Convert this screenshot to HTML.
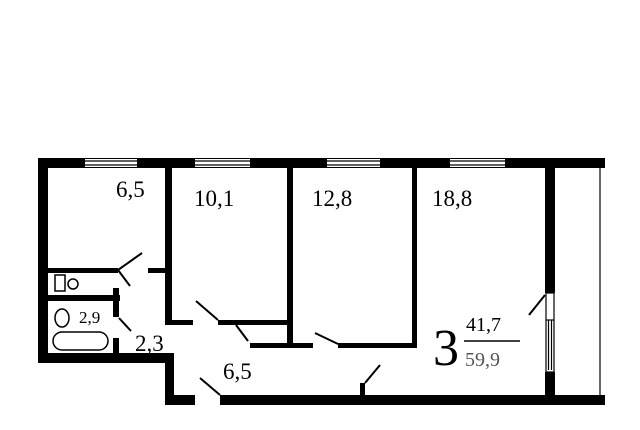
<!DOCTYPE html>
<html><head><style>
body{margin:0;background:#fff;width:640px;height:430px;overflow:hidden}
svg{display:block}
text{font-family:"Liberation Serif",serif;fill:#000}
</style></head><body>
<svg width="640" height="430" viewBox="0 0 640 430">
<g fill="#000">
<rect x="38" y="158" width="567" height="10"/>
<rect x="38" y="158" width="10" height="205"/>
<rect x="38" y="353" width="135" height="10"/>
<rect x="165" y="353" width="9" height="52"/>
<rect x="165" y="395" width="30" height="10"/>
<rect x="220" y="395" width="385" height="10"/>
<rect x="165" y="168" width="7" height="157"/>
<rect x="165" y="320" width="28" height="5"/>
<rect x="218" y="320" width="70" height="5"/>
<rect x="287" y="168" width="6" height="180"/>
<rect x="250" y="343" width="63" height="5"/>
<rect x="412" y="168" width="5" height="180"/>
<rect x="338" y="343" width="79" height="5"/>
<rect x="48" y="268" width="70" height="5"/>
<rect x="148" y="268" width="17" height="5"/>
<rect x="48" y="295" width="72" height="6"/>
<rect x="113" y="288" width="6" height="29"/>
<rect x="113" y="338" width="6" height="15"/>
<rect x="360" y="383" width="5" height="12"/>
<rect x="545" y="168" width="10" height="125"/>
<rect x="545" y="372" width="10" height="28"/>
</g>
<g fill="#fff" stroke="none">
<rect x="85" y="159" width="52" height="8"/>
<rect x="195" y="159" width="55" height="8"/>
<rect x="327" y="159" width="53" height="8"/>
<rect x="450" y="159" width="55" height="8"/>
</g>
<g stroke="#000" stroke-width="1.2">
<line x1="85" y1="161" x2="137" y2="161"/><line x1="85" y1="165" x2="137" y2="165"/>
<line x1="195" y1="161" x2="250" y2="161"/><line x1="195" y1="165" x2="250" y2="165"/>
<line x1="327" y1="161" x2="380" y2="161"/><line x1="327" y1="165" x2="380" y2="165"/>
<line x1="450" y1="161" x2="505" y2="161"/><line x1="450" y1="165" x2="505" y2="165"/>
<rect x="546" y="293" width="8" height="79" fill="#fff"/>
<line x1="548.5" y1="320" x2="548.5" y2="370"/><line x1="551.5" y1="320" x2="551.5" y2="370"/>
<line x1="546" y1="320" x2="554" y2="320"/>
<line x1="600" y1="168" x2="600" y2="395"/>
</g>
<g stroke="#000" stroke-width="2" fill="none">
<line x1="118" y1="270" x2="142" y2="253"/>
<line x1="118" y1="270" x2="130" y2="286"/>
<line x1="196" y1="301" x2="218" y2="320"/>
<line x1="236" y1="325" x2="248" y2="341"/>
<line x1="119" y1="318" x2="131" y2="331"/>
<line x1="315" y1="333" x2="338" y2="344"/>
<line x1="365" y1="383" x2="380" y2="365"/>
<line x1="200" y1="378" x2="220" y2="395"/>
<line x1="529" y1="315" x2="545" y2="295"/>
<rect x="55" y="275" width="10" height="16" stroke-width="1.5"/>
<circle cx="73" cy="284" r="5" stroke-width="1.5"/>
<ellipse cx="62" cy="318" rx="7" ry="9" stroke-width="1.5"/>
<rect x="53" y="332" width="55" height="18" rx="9" stroke-width="1.5"/>
</g>
<g>
<text x="116" y="197" font-size="23">6,5</text>
<text x="194" y="206" font-size="23">10,1</text>
<text x="312" y="206" font-size="23">12,8</text>
<text x="432" y="206" font-size="23">18,8</text>
<text x="79" y="323" font-size="17">2,9</text>
<text x="135" y="351" font-size="23">2,3</text>
<text x="223" y="379" font-size="23">6,5</text>
<text x="433" y="365" font-size="52">3</text>
<text x="466" y="331" font-size="20">41,7</text>
<line x1="464" y1="341" x2="520" y2="341" stroke="#000" stroke-width="1.5"/>
<text x="465" y="366" font-size="20" style="fill:#555">59,9</text>
</g>
</svg>
</body></html>
